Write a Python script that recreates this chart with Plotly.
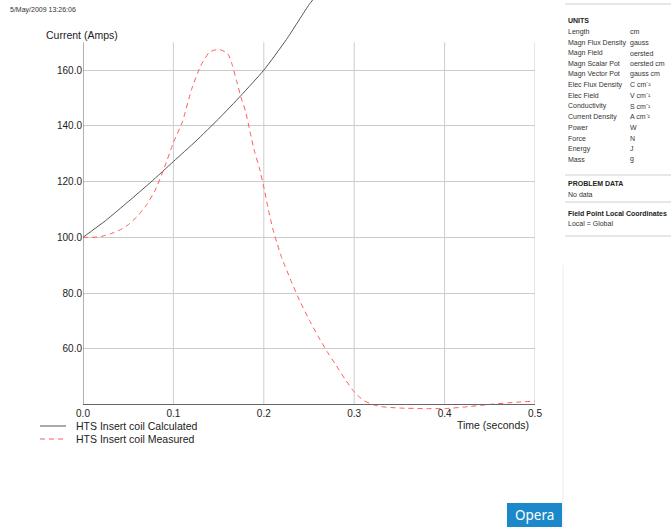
import plotly.graph_objects as go

# ---- data ----
calc_t = [0, 0.025, 0.05, 0.075, 0.1, 0.125, 0.15, 0.175, 0.2, 0.225, 0.25, 0.256]
calc_i = [100, 106, 112.8, 119.8, 127.2, 134.6, 142.5, 151, 160, 171, 183.5, 186]

meas_t = [0, 0.01, 0.02, 0.03, 0.04, 0.05, 0.06, 0.07, 0.08, 0.09, 0.1, 0.11, 0.12, 0.13,
          0.14, 0.15, 0.16, 0.165, 0.17, 0.175, 0.18, 0.185, 0.19, 0.195, 0.2, 0.205, 0.21,
          0.215, 0.22, 0.23, 0.24, 0.25, 0.26, 0.27, 0.28, 0.29, 0.3, 0.31, 0.32, 0.33,
          0.35, 0.38, 0.4, 0.42, 0.45, 0.48, 0.5]
meas_i = [100, 100, 100.3, 101.2, 102.5, 104.5, 107.5, 111.5, 117, 125, 134, 141.5, 153, 161.5,
          166.5, 167.5, 166, 162, 156, 150, 145, 137.5, 130.5, 125, 118, 110, 103,
          97.5, 92.5, 84.5, 77, 70.5, 64.5, 59, 54, 49, 44.5, 41.5, 40, 39.2,
          38.7, 38.5, 38.5, 39, 40, 40.8, 41.2]

x_ticks = [0.0, 0.1, 0.2, 0.3, 0.4, 0.5]
y_ticks = [60, 80, 100, 120, 140, 160]
y_min, y_max_grid, y_top = 38, 170, 185.2
x_axis_y = 40

series_names = ["HTS Insert coil Calculated", "HTS Insert coil Measured"]
series_colors = ["#555555", "#ff5a5a"]
series_dash = ["solid", "5px,4px"]

units_labels = ["Length", "Magn Flux Density", "Magn Field", "Magn Scalar Pot", "Magn Vector Pot",
                "Elec Flux Density", "Elec Field", "Conductivity", "Current Density", "Power",
                "Force", "Energy", "Mass"]
units_values = ["cm", "gauss", "oersted", "oersted cm", "gauss cm", "C cm\u207b\u00b2",
                "V cm\u207b\u00b9", "S cm\u207b\u00b9", "A cm\u207b\u00b2", "W", "N", "J", "g"]

# ---- layout geometry (pixels) ----
W, H = 671, 528
L, R_EDGE = 83, 535
T, B_EDGE = 0, 410
PW, PH = R_EDGE - L, B_EDGE - T


def px(x):
    return (x - L) / PW


def py(y):
    return (B_EDGE - y) / PH


FONT = "Liberation Sans, Arial, sans-serif"
SMALL = "Liberation Sans, Arial, sans-serif"

fig = go.Figure()
fig.add_trace(go.Scatter(x=calc_t, y=calc_i, mode="lines", name=series_names[0],
                         line=dict(color=series_colors[0], width=1, shape="spline", smoothing=0.5)))
fig.add_trace(go.Scatter(x=meas_t, y=meas_i, mode="lines", name=series_names[1],
                         line=dict(color=series_colors[1], width=1, dash=series_dash[1],
                                   shape="spline", smoothing=0.5)))

shapes = []
# vertical grid lines (limited height)
for xv in x_ticks[1:]:
    shapes.append(dict(type="line", xref="x", yref="y", x0=xv, x1=xv, y0=x_axis_y, y1=y_max_grid,
                       line=dict(color="#cccccc", width=1), layer="below"))
# y axis line
shapes.append(dict(type="line", xref="x", yref="y", x0=0, x1=0, y0=x_axis_y, y1=y_max_grid,
                   line=dict(color="#666666", width=1), layer="above"))
# right panel separators
for yy in [4, 175, 202, 236]:
    shapes.append(dict(type="line", xref="paper", yref="paper", x0=px(565), x1=px(671),
                       y0=py(yy), y1=py(yy), line=dict(color="#cfcfcf", width=1)))
# faint vertical line
shapes.append(dict(type="line", xref="paper", yref="paper", x0=px(563), x1=px(563),
                   y0=py(265), y1=py(528), line=dict(color="#ececf4", width=1)))
# Opera button
shapes.append(dict(type="rect", xref="paper", yref="paper", x0=px(507), x1=px(562),
                   y0=py(527), y1=py(503), fillcolor="#1a88c9", line=dict(width=0)))
# legend samples
for k, yy in enumerate([426, 439]):
    shapes.append(dict(type="line", xref="paper", yref="paper", x0=px(40), x1=px(66),
                       y0=py(yy), y1=py(yy),
                       line=dict(color=series_colors[k], width=1, dash=series_dash[k])))

ann = []
for k, yy in enumerate([426, 439]):
    ann.append(dict(text=series_names[k], x=px(74), y=py(yy), xanchor="left", yanchor="middle",
                    font=dict(family=FONT, size=10.5, color="#222222")))
ann.append(dict(text="5/May/2009 13:26:06", x=px(8), y=py(10), xanchor="left", yanchor="middle",
                font=dict(family=SMALL, size=7, color="#333333")))
ann.append(dict(text="Current (Amps)", x=px(44), y=py(35), xanchor="left", yanchor="middle",
                font=dict(family=FONT, size=10.5, color="#222222")))
ann.append(dict(text="Time (seconds)", x=px(531), y=py(425), xanchor="right", yanchor="middle",
                font=dict(family=FONT, size=10.5, color="#222222")))
ann.append(dict(text="Opera", x=px(534.5), y=py(515), xanchor="center", yanchor="middle",
                font=dict(family="Noto Sans, sans-serif", size=13.5, color="white")))
# right panel
ann.append(dict(text="<b>UNITS</b>", x=px(566), y=py(20), xanchor="left", yanchor="middle",
                font=dict(family=SMALL, size=7, color="#222222")))
for i, (lab, val) in enumerate(zip(units_labels, units_values)):
    yy = 32 + i * 10.6
    ann.append(dict(text=lab, x=px(566), y=py(yy), xanchor="left", yanchor="middle",
                    font=dict(family=SMALL, size=7, color="#333333")))
    ann.append(dict(text=val, x=px(628), y=py(yy), xanchor="left", yanchor="middle",
                    font=dict(family=SMALL, size=7, color="#333333")))
ann.append(dict(text="<b>PROBLEM DATA</b>", x=px(566), y=py(184), xanchor="left", yanchor="middle",
                font=dict(family=SMALL, size=7, color="#222222")))
ann.append(dict(text="No data", x=px(566), y=py(194), xanchor="left", yanchor="middle",
                font=dict(family=SMALL, size=7, color="#333333")))
ann.append(dict(text="<b>Field Point Local Coordinates</b>", x=px(566), y=py(213), xanchor="left",
                yanchor="middle", font=dict(family=SMALL, size=7, color="#222222")))
ann.append(dict(text="Local = Global", x=px(566), y=py(223), xanchor="left", yanchor="middle",
                font=dict(family=SMALL, size=7, color="#333333")))
for a in ann:
    a.update(xref="paper", yref="paper", showarrow=False)

fig.update_layout(
    width=W, height=H,
    margin=dict(l=L, r=W - R_EDGE, t=T, b=H - B_EDGE, pad=0, autoexpand=False),
    paper_bgcolor="white", plot_bgcolor="white",
    font=dict(family=FONT, size=10, color="#222222"),
    showlegend=False,
    hovermode=False,
    xaxis=dict(range=[0, 0.5], tickvals=x_ticks, tickformat=".1f", showgrid=False, zeroline=False,
               showline=True, linecolor="#666666", linewidth=1, ticks="", anchor="free",
               position=(x_axis_y - y_min) / (y_top - y_min),
               tickfont=dict(family=FONT, size=10, color="#222222")),
    yaxis=dict(range=[y_min, y_top], tickvals=y_ticks, tickformat=".1f", showgrid=True,
               gridcolor="#cccccc", gridwidth=1, zeroline=False, showline=False, ticks="",
               tickfont=dict(family=FONT, size=10, color="#222222")),
    shapes=shapes, annotations=ann,
)

fig.write_html("out.html", config={"displayModeBar": False},
               post_script="document.body.style.margin='0';document.body.style.overflow='hidden';")
